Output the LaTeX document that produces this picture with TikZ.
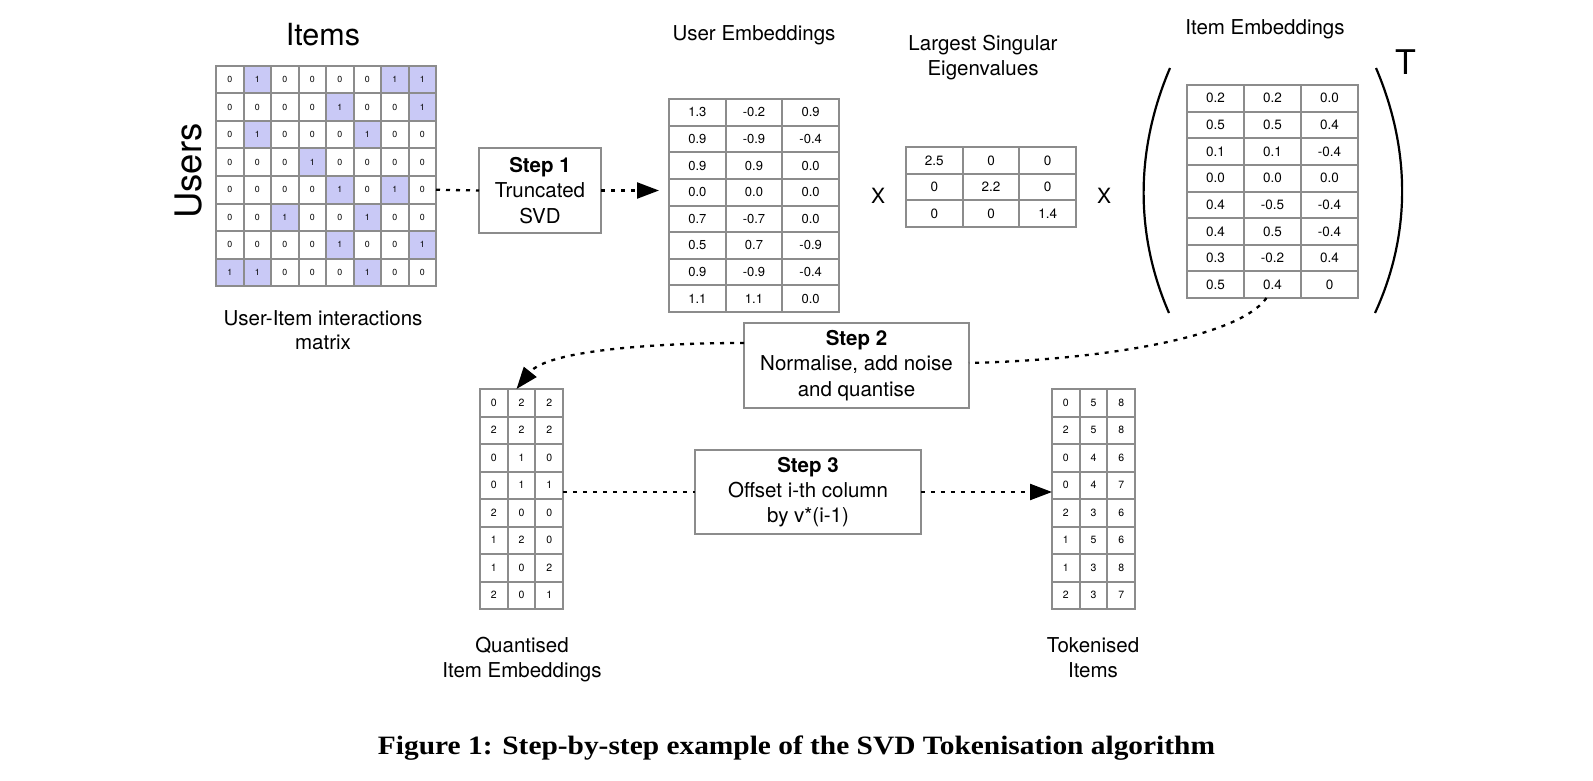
\documentclass[tikz,border=0pt]{standalone}
\usepackage{fontspec}
\setmainfont{TeX Gyre Heros}
\newfontfamily\capfont{Liberation Serif}
\usepackage{graphicx}
\usetikzlibrary{arrows.meta}
\definecolor{gridgray}{RGB}{140,140,140}
\definecolor{hl}{RGB}{201,201,246}
\newcommand{\fs}[1]{\fontsize{#1}{#1}\selectfont}
\newcommand{\drawmat}[7]{%
  \foreach \rowvals [count=\r] in {#7} {%
    \foreach \v [count=\c] in \rowvals {%
      \node[cell, minimum width=#4pt, minimum height=#5pt, font=\fs{#6}] (#1-\r-\c) at ({#2+(\c-0.5)*#4},{#3+(\r-0.5)*#5}) {\v};
    }%
  }%
}
\begin{document}
\begin{tikzpicture}[x=1pt,y=-1pt,
  cell/.style={draw=gridgray, line width=2pt, inner sep=0pt, outer sep=0pt, fill=white},
  stepbox/.style={draw=gridgray, line width=2pt, fill=white, inner sep=0pt, outer sep=0pt, align=center, font=\fontsize{20.5}{25.3}\selectfont},
  lbl/.style={inner sep=0pt, outer sep=0pt, anchor=base, font=\fs{20.5}},
  dotline/.style={line width=2.3pt, dash pattern=on 4pt off 6pt},
  tip/.style={-{Triangle[length=22pt,width=16pt]}},
  paren/.style={line width=2.2pt}
]
\useasboundingbox (0,0) rectangle (1593,781);

% user-item matrix
\foreach \rowvals [count=\r] in {{0,1,0,0,0,0,1,1},{0,0,0,0,1,0,0,1},{0,1,0,0,0,1,0,0},{0,0,0,1,0,0,0,0},{0,0,0,0,1,0,1,0},{0,0,1,0,0,1,0,0},{0,0,0,0,1,0,0,1},{1,1,0,0,0,1,0,0}} {%
  \foreach \v [count=\c] in \rowvals {%
    \ifnum\v=1 \def\cf{hl}\else\def\cf{white}\fi
    \node[cell, fill=\cf, minimum width=27.5pt, minimum height=27.5pt, font=\fs{8.8}] (ui-\r-\c) at ({216+(\c-0.5)*27.5},{66+(\r-0.5)*27.5}) {\v};
  }%
}
\node[lbl, font=\fs{30.5}] (items) at (323,46) {Items};
\node[lbl, font=\fs{36.5}, rotate=90] (users) at (201.7,171) {Users};
\node[lbl] (uilab1) at (323,325) {User-Item interactions};
\node[lbl] (uilab2) at (323,349.5) {matrix};

% user embeddings
\drawmat{ue}{669}{99}{56.67}{26.625}{13}{{1.3,-0.2,0.9},{0.9,-0.9,-0.4},{0.9,0.9,0.0},{0.0,0.0,0.0},{0.7,-0.7,0.0},{0.5,0.7,-0.9},{0.9,-0.9,-0.4},{1.1,1.1,0.0}}
\node[lbl] (uelab) at (754,41) {User Embeddings};

% eigenvalues
\drawmat{ev}{906}{147}{56.67}{26.67}{13.5}{{2.5,0,0},{0,2.2,0},{0,0,1.4}}
\node[lbl] (evlab1) at (983,50.7) {Largest Singular};
\node[lbl] (evlab2) at (983,76) {Eigenvalues};
\node[lbl, font=\fs{21}] (x1) at (878,203.5) {X};
\node[lbl, font=\fs{21}] (x2) at (1104,203.5) {X};

% item embeddings
\drawmat{ie}{1187}{85}{57}{26.625}{13.5}{{0.2,0.2,0.0},{0.5,0.5,0.4},{0.1,0.1,-0.4},{0.0,0.0,0.0},{0.4,-0.5,-0.4},{0.4,0.5,-0.4},{0.3,-0.2,0.4},{0.5,0.4,0}}
\node[lbl] (ielab) at (1265,34.5) {Item Embeddings};
\draw[paren] (1170,68) .. controls (1135,150) and (1135,235) .. (1169,313);
\draw[paren] (1376,68) .. controls (1411,150) and (1411,235) .. (1375,313);
\node[lbl, font=\fs{34}] (tsym) at (1406,75) {T};

% quantised
\drawmat{qe}{480}{389}{27.67}{27.5}{10.5}{{0,2,2},{2,2,2},{0,1,0},{0,1,1},{2,0,0},{1,2,0},{1,0,2},{2,0,1}}
\node[lbl] (qelab1) at (522,652.5) {Quantised};
\node[lbl] (qelab2) at (522,677.5) {Item Embeddings};

% tokenised
\drawmat{tk}{1052}{389}{27.67}{27.5}{10.5}{{0,5,8},{2,5,8},{0,4,6},{0,4,7},{2,3,6},{1,5,6},{1,3,8},{2,3,7}}
\node[lbl] (tklab1) at (1093,652.5) {Tokenised};
\node[lbl] (tklab2) at (1093,677.5) {Items};

% steps
\node[stepbox, minimum width=122pt, minimum height=85pt] (step1) at (540,190.5) {\textbf{Step 1}\\Truncated\\SVD};
\node[stepbox, minimum width=225pt, minimum height=85pt] (step2) at (856.5,365.5) {\textbf{Step 2}\\Normalise, add noise\\and quantise};
\node[stepbox, minimum width=226pt, minimum height=84pt] (step3) at (808,492) {\textbf{Step 3}\\Offset i-th column\\by v*(i-1)};

% connectors
\draw[dotline] (ui-5-8.east) -- (step1.west);
\draw[dotline, tip] (step1.east) -- ([xshift=-10pt]ue-4-1.west |- step1.east);
\draw[dotline] ([xshift=-6pt]ie-8-2.south) .. controls (1238,338) and (1100,360) .. ([yshift=2.5pt]step2.east);
\draw[dotline, tip] ([yshift=22.5pt]step2.west) .. controls (650,343) and (547,351) .. ([xshift=-5pt]qe-1-2.north);
\draw[dotline] (qe-4-3.east |- step3.west) -- (step3.west);
\draw[dotline, tip] (step3.east) -- (tk-4-1.west |- step3.east);

% caption
\node[anchor=base, inner sep=0pt] (caption) at (796.5,754) {\resizebox{837pt}{\height}{\capfont\bfseries\fontsize{26.5}{26.5}\selectfont Figure 1: Step-by-step example of the SVD Tokenisation algorithm}};
\end{tikzpicture}
\end{document}
